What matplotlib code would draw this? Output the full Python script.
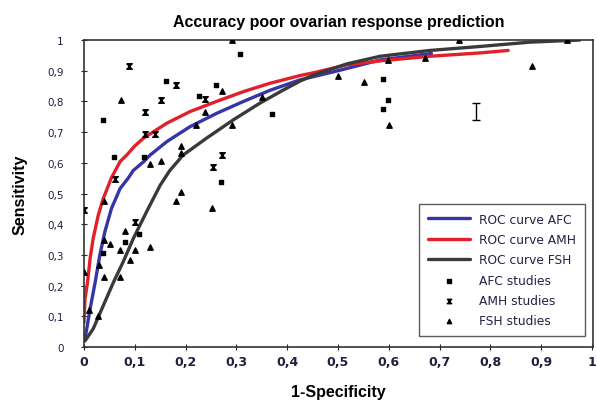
import numpy as np
import matplotlib
matplotlib.use("Agg")
import matplotlib.pyplot as plt
from matplotlib.ticker import FuncFormatter

# ROC curves
afc_x = [0.002, 0.012, 0.022, 0.031, 0.041, 0.054, 0.071, 0.087, 0.097, 0.117, 0.13, 0.163, 0.209,
         0.261, 0.314, 0.366, 0.425, 0.5, 0.583, 0.684]
afc_y = [0.026, 0.124, 0.211, 0.298, 0.375, 0.451, 0.516, 0.55, 0.575, 0.603, 0.625, 0.669, 0.718,
         0.761, 0.8, 0.836, 0.87, 0.9, 0.935, 0.956]

amh_x = [0.0, 0.002, 0.007, 0.012, 0.018, 0.028, 0.038, 0.054, 0.071, 0.084, 0.1, 0.117, 0.163,
         0.209, 0.261, 0.314, 0.366, 0.425, 0.451, 0.517, 0.583, 0.681, 0.78, 0.835]
amh_y = [0.08, 0.157, 0.211, 0.288, 0.353, 0.429, 0.484, 0.551, 0.604, 0.625, 0.655, 0.68, 0.729,
         0.767, 0.8, 0.832, 0.859, 0.884, 0.893, 0.919, 0.932, 0.947, 0.958, 0.966]

fsh_x = [0.002, 0.018, 0.038, 0.058, 0.077, 0.097, 0.123, 0.15, 0.169, 0.195, 0.241, 0.294, 0.346,
         0.39, 0.425, 0.451, 0.517, 0.583, 0.681, 0.78, 0.878, 0.976]
fsh_y = [0.02, 0.059, 0.135, 0.211, 0.277, 0.353, 0.44, 0.527, 0.575, 0.625, 0.68, 0.74, 0.794,
         0.835, 0.866, 0.885, 0.922, 0.947, 0.966, 0.979, 0.993, 1.0]

# individual studies
afc_sx = [0.038, 0.06, 0.119, 0.161, 0.227, 0.259, 0.308, 0.27, 0.371, 0.589, 0.599, 0.589, 0.038, 0.108, 0.081]
afc_sy = [0.738, 0.618, 0.618, 0.865, 0.816, 0.854, 0.955, 0.538, 0.759, 0.874, 0.805, 0.776, 0.307, 0.369, 0.343]

amh_sx = [0.089, 0.181, 0.152, 0.12, 0.12, 0.14, 0.061, 0.253, 0.271, 0.238, 0.0, 0.1]
amh_sy = [0.916, 0.854, 0.805, 0.765, 0.693, 0.693, 0.547, 0.587, 0.625, 0.807, 0.445, 0.407]

fsh_sx = [0.291, 0.073, 0.271, 0.22, 0.291, 0.238, 0.191, 0.191, 0.13, 0.152, 0.191, 0.351, 0.501,
          0.551, 0.599, 0.671, 0.739, 0.95, 0.881, 0.6, 0.0, 0.01, 0.028, 0.03, 0.039, 0.039, 0.039,
          0.051, 0.071, 0.071, 0.081, 0.091, 0.1, 0.129, 0.181, 0.251]
fsh_sy = [1.0, 0.805, 0.834, 0.723, 0.723, 0.765, 0.656, 0.633, 0.595, 0.606, 0.506, 0.814, 0.883,
          0.863, 0.935, 0.943, 1.0, 1.0, 0.914, 0.723, 0.244, 0.119, 0.10, 0.266, 0.228, 0.475, 0.347,
          0.337, 0.317, 0.228, 0.377, 0.284, 0.317, 0.326, 0.475, 0.454]

fig = plt.figure(figsize=(5.97, 4.02), dpi=100)
ax = fig.add_axes([0.1407, 0.1343, 0.8526, 0.7637])

ax.plot(afc_x, afc_y, color='#3535a8', lw=2.4, label='ROC curve AFC', solid_capstyle='round')
ax.plot(amh_x, amh_y, color='#e3202a', lw=2.4, label='ROC curve AMH', solid_capstyle='round')
ax.plot(fsh_x, fsh_y, color='#3a3a3a', lw=2.4, label='ROC curve FSH', solid_capstyle='round')

hourglass = [(-1, 1), (1, 1), (-1, -1), (1, -1), (-1, 1)]
ax.scatter(afc_sx, afc_sy, marker='s', s=11, color='black', label='AFC studies', zorder=3)
ax.scatter(amh_sx, amh_sy, marker=hourglass, s=16, color='black', label='AMH studies', zorder=3)
ax.scatter(fsh_sx, fsh_sy, marker='^', s=15, color='black', label='FSH studies', zorder=3)

# single error bar
ax.errorbar([0.772], [0.768], yerr=[0.028], color='black', lw=1, capsize=3, fmt='none')

ax.set_xlim(0, 1.002)
ax.set_ylim(0, 1.0)
ax.set_xticks(np.arange(0, 1.01, 0.1))
ax.set_yticks(np.arange(0, 1.01, 0.1))
fmt = FuncFormatter(lambda v, p: ('%g' % round(v, 1)).replace('.', ','))
ax.xaxis.set_major_formatter(fmt)
ax.yaxis.set_major_formatter(fmt)
ax.tick_params(axis='x', direction='inout', length=5, labelsize=9, pad=3, colors='#1f1f3f')
ax.tick_params(axis='y', direction='inout', length=5, labelsize=7.5, pad=12, colors='#1f1f3f')
for lab in ax.get_xticklabels():
    lab.set_fontweight('bold')
for s in ax.spines.values():
    s.set_linewidth(1.2)
    s.set_color('#333333')

ax.set_title('Accuracy poor ovarian response prediction', fontsize=11.5, fontweight='bold',
             family='Liberation Sans', pad=10)
ax.set_xlabel('1-Specificity', fontsize=11.5, fontweight='bold', family='Liberation Sans', labelpad=12)
ax.set_ylabel('Sensitivity', fontsize=11.5, fontweight='bold', family='Liberation Sans', labelpad=14)

leg = ax.legend(loc='lower right', bbox_to_anchor=(0.984, 0.036), borderaxespad=0, fontsize=8.8,
                frameon=True, fancybox=False, edgecolor='#333333', handlelength=3.4,
                labelspacing=0.6, borderpad=0.7, markerscale=0.8)
leg.get_frame().set_linewidth(1.0)
for t in leg.get_texts():
    t.set_color('#222244')

fig.savefig('out.png', dpi=100)
